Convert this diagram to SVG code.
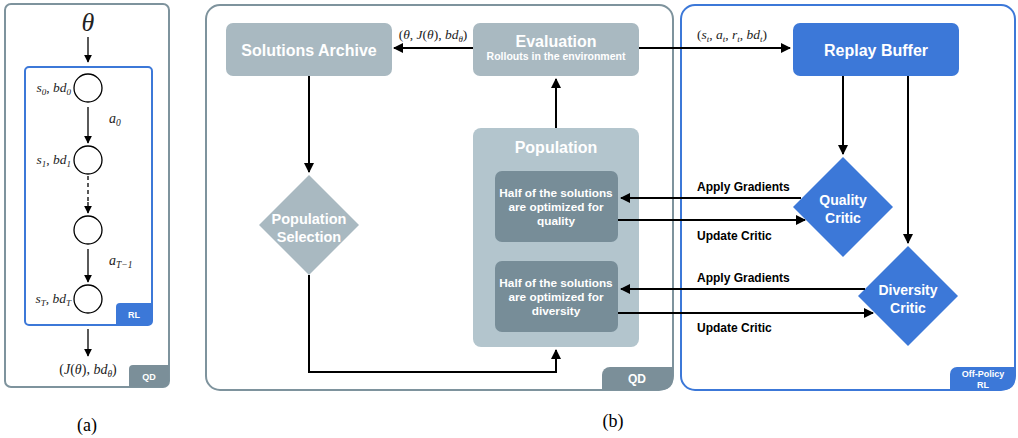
<svg xmlns="http://www.w3.org/2000/svg" width="1018" height="438" viewBox="0 0 1018 438">
<defs>
<marker id="ah" viewBox="0 0 10 10" refX="9" refY="5" markerWidth="10" markerHeight="10" markerUnits="userSpaceOnUse" orient="auto"><path d="M0,0 L10,5 L0,10 z" fill="#000"/></marker>
<marker id="ahs" viewBox="0 0 10 10" refX="9" refY="5" markerWidth="8" markerHeight="9" markerUnits="userSpaceOnUse" orient="auto"><path d="M0,0 L10,5 L0,10 z" fill="#000"/></marker>
<style>
.gbox{fill:none;stroke:#7e939d;stroke-width:2}
.bbox{fill:none;stroke:#3c78d8;stroke-width:2}
.gfill{fill:#a9b9c1}
.pop{fill:#b3c5cd}
.inner{fill:#778d98}
.blue{fill:#3c78d8}
.badgeg{fill:#7b8f99}
.wt{font-family:"Liberation Sans",Arial,sans-serif;font-weight:bold;fill:#fff;text-anchor:middle}
.lbl{font-family:"Liberation Sans",Arial,sans-serif;font-weight:bold;fill:#000;font-size:12px}
.m{font-family:"Liberation Serif","Times New Roman",serif;font-style:italic;fill:#222}
.cap{font-family:"Liberation Serif","Times New Roman",serif;fill:#000;font-size:18px;text-anchor:middle}
.ln{stroke:#000;stroke-width:2;fill:none}
.ln1{stroke:#000;stroke-width:1.3;fill:none}
.circ{fill:#fff;stroke:#000;stroke-width:1.3}
</style>
</defs>

<!-- Panel (a) -->
<g id="panel-a">
<rect class="gbox" x="5" y="4" width="164" height="383" rx="6"/>
<rect class="bbox" x="25" y="67" width="127" height="258" rx="4"/>
<path class="blue" d="M116,307 a4,4 0 0 1 4,-4 H152 V321 a4,4 0 0 1 -4,4 H116 z"/>
<text class="wt" x="134" y="318" font-size="9">RL</text>
<path class="badgeg" d="M129,369 a4,4 0 0 1 4,-4 H169 V381 a6,6 0 0 1 -6,6 H129 z"/>
<text class="wt" x="149" y="380" font-size="9">QD</text>
<text class="m" x="88" y="31" font-size="26" text-anchor="middle">θ</text>
<circle id="s0" class="circ" cx="88" cy="88" r="14"/>
<circle id="s1" class="circ" cx="88" cy="160" r="14"/>
<circle id="s2" class="circ" cx="88" cy="230" r="14"/>
<circle id="sT" class="circ" cx="88" cy="299" r="14"/>
<text class="m" x="71" y="92" font-size="13.5" text-anchor="end">s<tspan font-size="9" dy="3">0</tspan><tspan dy="-3" font-style="normal">, </tspan>bd<tspan font-size="9" dy="3">0</tspan></text>
<text class="m" x="71" y="164" font-size="13.5" text-anchor="end">s<tspan font-size="9" dy="3">1</tspan><tspan dy="-3" font-style="normal">, </tspan>bd<tspan font-size="9" dy="3">1</tspan></text>
<text class="m" x="71" y="303" font-size="13.5" text-anchor="end">s<tspan font-size="9" dy="3">T</tspan><tspan dy="-3" font-style="normal">, </tspan>bd<tspan font-size="9" dy="3">T</tspan></text>
<text class="m" x="109" y="123" font-size="14">a<tspan font-size="9.5" dy="3">0</tspan></text>
<text class="m" x="109" y="265" font-size="14">a<tspan font-size="9.5" dy="3">T−1</tspan></text>
<text class="m" x="88" y="374" font-size="14" text-anchor="middle"><tspan font-style="normal">(</tspan>J<tspan font-style="normal">(</tspan>θ<tspan font-style="normal">), </tspan>bd<tspan font-size="9.5" dy="3">θ</tspan><tspan dy="-3" font-style="normal">)</tspan></text>
</g>
<g id="connectors-a">
<line class="ln1" x1="88" y1="37" x2="88" y2="62" marker-end="url(#ahs)"/>
<line class="ln1" x1="88" y1="107" x2="88" y2="143" marker-end="url(#ahs)"/>
<line class="ln1" x1="88" y1="176" x2="88" y2="203" stroke-dasharray="4,3"/>
<line class="ln1" x1="88" y1="202" x2="88" y2="213" marker-end="url(#ahs)"/>
<line class="ln1" x1="88" y1="249" x2="88" y2="282" marker-end="url(#ahs)"/>
<line class="ln1" x1="88" y1="329" x2="88" y2="356" marker-end="url(#ahs)"/>
</g>
<text class="cap" x="87" y="431">(a)</text>

<!-- Panel (b) containers -->
<g id="qd-container">
<rect class="gbox" x="206" y="5" width="467" height="385" rx="14"/>
<path class="badgeg" d="M602,375 a8,8 0 0 1 8,-8 H673 V380 a10,10 0 0 1 -10,10 H602 z"/>
<text class="wt" x="637" y="383" font-size="12">QD</text>
</g>
<g id="rl-container">
<rect class="bbox" x="681" y="5" width="334" height="385" rx="14"/>
<path class="blue" d="M950,374 a7,7 0 0 1 7,-7 H1015 V380 a10,10 0 0 1 -10,10 H950 z"/>
<text class="wt" x="983" y="377" font-size="9">Off-Policy</text>
<text class="wt" x="983" y="388" font-size="9">RL</text>
</g>

<g id="solutions-archive">
<rect class="gfill" x="226" y="23" width="166" height="53" rx="7"/>
<text class="wt" x="309" y="56" font-size="16">Solutions Archive</text>
</g>
<g id="evaluation">
<rect class="gfill" x="473" y="23" width="166" height="53" rx="7"/>
<text class="wt" x="556" y="47" font-size="16">Evaluation</text>
<text class="wt" x="556" y="60" font-size="10.5">Rollouts in the environment</text>
</g>
<g id="replay-buffer">
<rect class="blue" x="793" y="23" width="166" height="53" rx="7"/>
<text class="wt" x="876" y="56" font-size="16">Replay Buffer</text>
</g>
<g id="population-selection">
<polygon class="gfill" points="309,175 359,225 309,275 259,225"/>
<text class="wt" x="309" y="224" font-size="14.5">Population</text>
<text class="wt" x="309" y="242" font-size="14.5">Selection</text>
</g>
<g id="population">
<rect class="pop" x="473" y="128" width="166" height="219" rx="8"/>
<text class="wt" x="556" y="153" font-size="16">Population</text>
</g>
<g id="half-quality">
<rect class="inner" x="495" y="171" width="123" height="71" rx="7"/>
<text class="wt" x="556" y="197" font-size="11.8">Half of the solutions</text>
<text class="wt" x="556" y="211" font-size="11.8">are optimized for</text>
<text class="wt" x="556" y="225" font-size="11.8">quality</text>
</g>
<g id="half-diversity">
<rect class="inner" x="495" y="261" width="123" height="71" rx="7"/>
<text class="wt" x="556" y="287" font-size="11.8">Half of the solutions</text>
<text class="wt" x="556" y="301" font-size="11.8">are optimized for</text>
<text class="wt" x="556" y="315" font-size="11.8">diversity</text>
</g>
<g id="quality-critic">
<polygon class="blue" points="843,157 893,207 843,257 793,207"/>
<text class="wt" x="843" y="205" font-size="14">Quality</text>
<text class="wt" x="843" y="223" font-size="14">Critic</text>
</g>
<g id="diversity-critic">
<polygon class="blue" points="908,246 958,296 908,346 858,296"/>
<text class="wt" x="908" y="295" font-size="14">Diversity</text>
<text class="wt" x="908" y="313" font-size="14">Critic</text>
</g>

<g id="connectors-b">
<line class="ln" x1="473" y1="48" x2="394" y2="48" marker-end="url(#ah)"/>
<line class="ln" x1="639" y1="48" x2="790" y2="48" marker-end="url(#ah)"/>
<line class="ln" x1="556" y1="128" x2="556" y2="79" marker-end="url(#ah)"/>
<line class="ln" x1="309" y1="76" x2="309" y2="172" marker-end="url(#ah)"/>
<polyline class="ln" points="309,275 309,372 556,372 556,350" marker-end="url(#ah)"/>
<line class="ln" x1="843" y1="76" x2="843" y2="154" marker-end="url(#ah)"/>
<line class="ln" x1="908" y1="76" x2="908" y2="243" marker-end="url(#ah)"/>
<line class="ln" x1="801" y1="198" x2="621" y2="198" marker-end="url(#ah)"/>
<line class="ln" x1="618" y1="220" x2="805" y2="220" marker-end="url(#ah)"/>
<line class="ln" x1="865" y1="289" x2="621" y2="289" marker-end="url(#ah)"/>
<line class="ln" x1="618" y1="313" x2="873" y2="313" marker-end="url(#ah)"/>
</g>
<g id="labels-b">
<text class="m" x="433" y="39" font-size="13.5" text-anchor="middle"><tspan font-style="normal">(</tspan>θ<tspan font-style="normal">, </tspan>J<tspan font-style="normal">(</tspan>θ<tspan font-style="normal">), </tspan>bd<tspan font-size="9" dy="3">θ</tspan><tspan dy="-3" font-style="normal">)</tspan></text>
<text class="m" x="732" y="39" font-size="13.5" text-anchor="middle"><tspan font-style="normal">(</tspan>s<tspan font-size="9" dy="3">t</tspan><tspan dy="-3" font-style="normal">, </tspan>a<tspan font-size="9" dy="3">t</tspan><tspan dy="-3" font-style="normal">, </tspan>r<tspan font-size="9" dy="3">t</tspan><tspan dy="-3" font-style="normal">, </tspan>bd<tspan font-size="9" dy="3">t</tspan><tspan dy="-3" font-style="normal">)</tspan></text>
<text class="lbl" x="697" y="191">Apply Gradients</text>
<text class="lbl" x="697" y="240">Update Critic</text>
<text class="lbl" x="697" y="282">Apply Gradients</text>
<text class="lbl" x="697" y="332">Update Critic</text>
</g>
<text class="cap" x="613" y="427">(b)</text>
</svg>
